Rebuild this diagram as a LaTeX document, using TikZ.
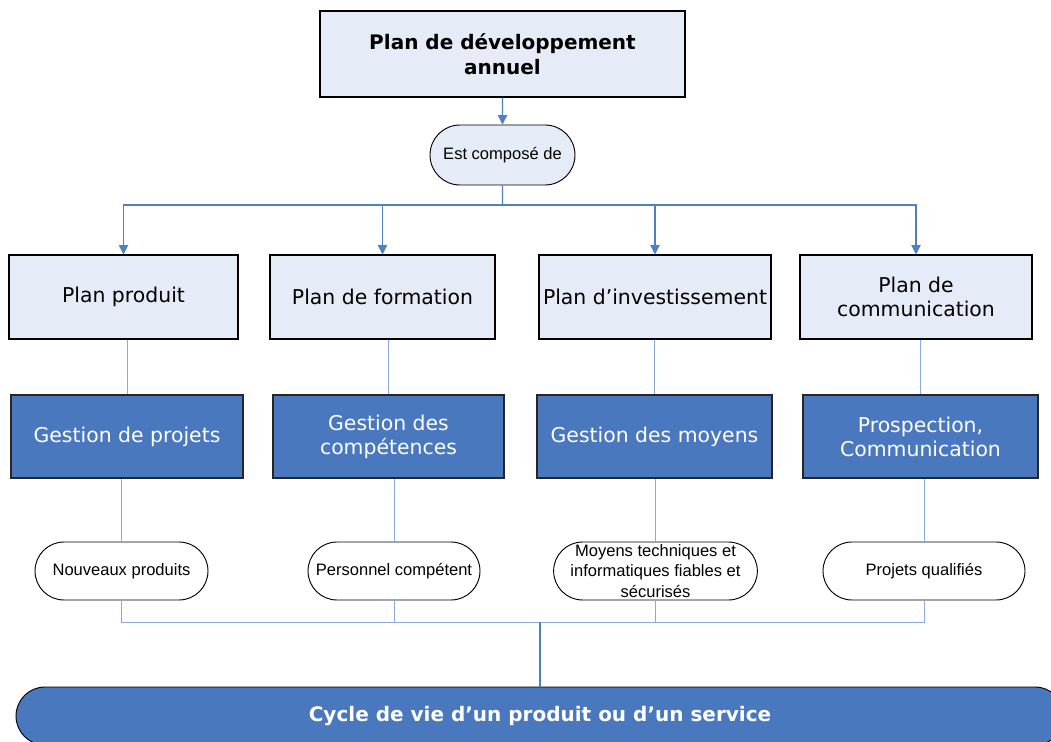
\documentclass[tikz,border=0pt]{standalone}
\usepackage{fontspec}
\setmainfont{DejaVu Sans}
\newfontfamily\arialfont{Liberation Sans}
\usetikzlibrary{shapes.misc,arrows.meta}
\definecolor{paleblue}{HTML}{E6ECF7}
\definecolor{boxblue}{HTML}{4A78BE}
\definecolor{linkblue}{HTML}{4F7FC4}
\definecolor{thinblue}{HTML}{8AAADA}
\newcommand{\px}{0.75pt}

\begin{document}
\begin{tikzpicture}[x=0.75pt, y=-0.75pt,
  plan/.style={draw=black, fill=paleblue, line width=0.8pt, align=center, inner sep=0pt, minimum height=84*\px, font=\fontsize{15.3}{18}\selectfont},
  goal/.style={draw=black!85, fill=boxblue, text=white, line width=0.8pt, align=center, inner sep=0pt, minimum height=83*\px, font=\fontsize{15.3}{18}\selectfont},
  result/.style={rounded rectangle, draw=black, fill=white, line width=0.7pt, align=center, inner sep=0pt, minimum height=58*\px, font=\arialfont\fontsize{12.4}{15.2}\selectfont},
  link/.style={draw=linkblue, line width=0.8pt},
  thinlink/.style={draw=thinblue, line width=0.75pt},
  arrowdown/.style={-{Triangle[length=7pt,width=7pt]}}]
  \clip (0,0) rectangle (1051,742);

  % top of the chart
  \node[plan, minimum width=365*\px, minimum height=86*\px, font=\bfseries\fontsize{15}{19}\selectfont] (top) at (502.5,54) {Plan de développement\\annuel};
  \node[result, fill=paleblue, minimum width=145*\px, minimum height=60*\px] (compose) at (502.5,155) {Est composé de};
  \coordinate (split) at (502.5,205);

  % plans
  \node[plan, minimum width=229*\px] (p1) at (123.5,297) {Plan produit};
  \node[plan, minimum width=225*\px] (p2) at (382.5,297) {Plan de formation};
  \node[plan, minimum width=232*\px] (p3) at (655,297) {Plan d’investissement};
  \node[plan, minimum width=232*\px] (p4) at (916,297) {Plan de\\communication};

  % management
  \node[goal, minimum width=232*\px] (g1) at (127,436.5) {Gestion de projets};
  \node[goal, minimum width=231*\px] (g2) at (388.5,436.5) {Gestion des\\compétences};
  \node[goal, minimum width=235*\px] (g3) at (654.5,436.5) {Gestion des moyens};
  \node[goal, minimum width=235*\px] (g4) at (920.5,436.5) {Prospection,\\Communication};

  % results
  \node[result, minimum width=173*\px] (r1) at (121.5,571) {Nouveaux produits};
  \node[result, minimum width=172*\px] (r2) at (394,571) {Personnel compétent};
  \node[result, minimum width=201*\px] (r3) at (655.5,571) {Moyens techniques et\\informatiques fiables et\\sécurisés};
  \node[result, minimum width=202*\px] (r4) at (924,571) {Projets qualifiés};
  \coordinate (join) at (540,622);

  \node[result, fill=boxblue, text=white, minimum width=1048*\px, font=\bfseries\fontsize{15}{18}\selectfont] (cycle) at (540,716) {Cycle de vie d’un produit ou d’un service};

  % connectors
  \draw[link, arrowdown] (top) -- (compose);
  \draw[link] (compose) -- (split);
  \foreach \n in {p1,p2,p3,p4}
    \draw[link, arrowdown] (split) -| (\n.north);
  \foreach \a/\b in {p1/g1,p2/g2,p3/g3,p4/g4}
    \draw[thinlink] (\b.north) -- (\b.north |- \a.south);
  \foreach \a/\b in {g1/r1,g2/r2,g3/r3,g4/r4}
    \draw[thinlink] (\b.north) -- (\b.north |- \a.south);
  \foreach \n in {r1,r2,r3,r4}
    \draw[thinlink] (\n.south) |- (join);
  \draw[link] (join) -- (cycle.north);
\end{tikzpicture}
\end{document}
